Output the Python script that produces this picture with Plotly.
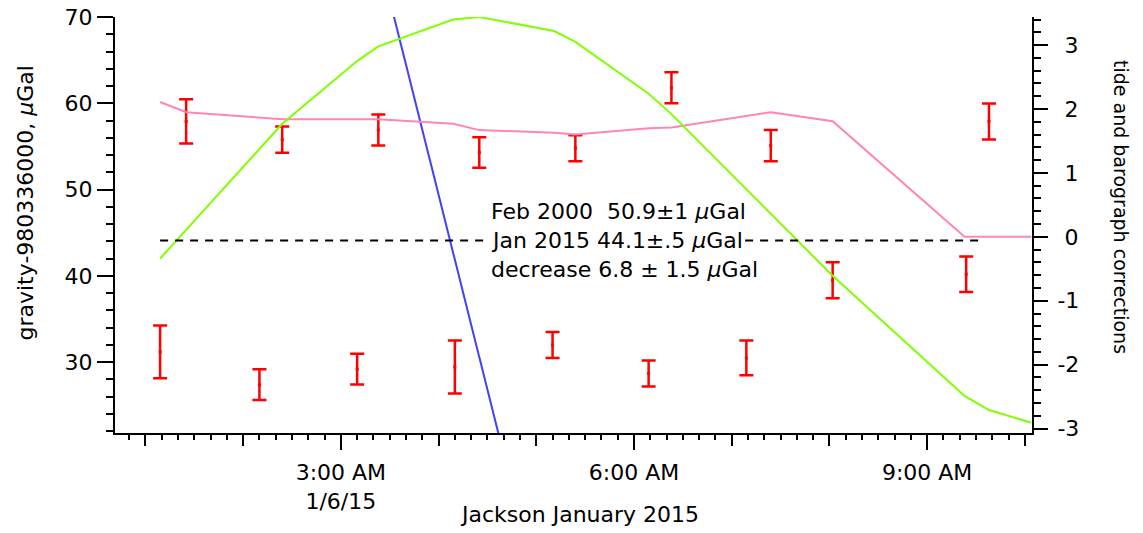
import plotly.graph_objects as go

DAY = "2015-01-06 "

# gravity measurements (left axis, µGal)
upper_times = ["01:25", "02:24", "03:23", "04:25", "05:24", "06:23", "07:24", "08:02", "09:24", "09:38"]
upper_vals = [57.9, 55.8, 56.9, 54.3, 54.8, 61.8, 55.1, 39.5, 40.2, 57.9]
upper_err = [2.56, 1.52, 1.79, 1.76, 1.5, 1.79, 1.81, 2.08, 2.05, 2.08]

lower_times = ["01:09", "02:10", "03:10", "04:10", "05:10", "06:09", "07:09"]
lower_vals = [31.2, 27.4, 29.2, 29.45, 32.0, 28.7, 30.5]
lower_err = [3.06, 1.79, 1.77, 3.06, 1.5, 1.5, 2.02]

# tide correction (right axis)
tide_times = ["01:09", "02:24", "03:10", "03:23", "04:09", "04:25", "05:11", "05:24",
              "06:09", "06:23", "08:02", "09:23", "09:38", "10:04"]
tide_vals = [-0.34, 1.77, 2.75, 2.98, 3.40, 3.44, 3.22, 3.05, 2.24, 1.92, -0.61, -2.49, -2.71, -2.91]

# barograph correction (right axis)
baro_times = ["01:09", "01:25", "02:24", "03:23", "04:09", "04:25", "05:11", "05:24",
              "06:09", "06:23", "07:24", "08:02", "09:23", "10:04"]
baro_vals = [2.11, 1.95, 1.84, 1.84, 1.77, 1.67, 1.63, 1.60, 1.70, 1.71, 1.95, 1.81, 0.0, 0.0]

# drift line (left axis)
drift_times = ["03:30", "04:40"]
drift_vals = [72.0, 19.3]

# Jan 2015 mean level
mean_times = ["01:09", "09:35"]
mean_level = 44.1

x_range = ["2015-01-06 00:41:18", "2015-01-06 10:04:25"]
y_range = [21.8, 70.0]
y2_range = [-3.07, 3.44]

x_major_vals = ["03:00", "06:00", "09:00"]
x_major_text = ["3:00 AM<br>1/6/15", "6:00 AM", "9:00 AM"]
y2_tick_vals = [-3, -2, -1, 0, 1, 2, 3]
y2_tick_text = ["-3", "-2", "-1", "\u00a00", "\u00a01", "\u00a02", "\u00a03"]

FONT = "DejaVu Sans"
FS = 22


def t(lst):
    return [DAY + s for s in lst]


fig = go.Figure()

fig.add_trace(go.Scatter(x=t(baro_times), y=baro_vals, mode="lines", yaxis="y2",
                         line=dict(color="#ff85b5", width=2), hoverinfo="skip"))
fig.add_trace(go.Scatter(x=t(tide_times), y=tide_vals, mode="lines", yaxis="y2",
                         line=dict(color="#80ff00", width=2), hoverinfo="skip"))
fig.add_trace(go.Scatter(x=t(mean_times), y=[mean_level] * len(mean_times), mode="lines",
                         xaxis="x2", line=dict(color="black", width=2, dash="8px,7px"),
                         hoverinfo="skip"))
fig.add_trace(go.Scatter(x=t(drift_times), y=drift_vals, mode="lines",
                         line=dict(color="#4040ff", width=2), hoverinfo="skip"))
for tt, vv, ee in [(upper_times, upper_vals, upper_err), (lower_times, lower_vals, lower_err)]:
    fig.add_trace(go.Scatter(x=t(tt), y=vv, mode="markers",
                             marker=dict(color="red", size=3, symbol="square"),
                             error_y=dict(type="data", array=ee, visible=True,
                                          color="red", thickness=2.5, width=7)))

annots = [
    dict(text="Feb 2000  50.9±1 <i>μ</i>Gal", yshift=29, bgcolor="rgba(0,0,0,0)"),
    dict(text="Jan 2015 44.1±.5 <i>μ</i>Gal", yshift=0, bgcolor="white"),
    dict(text="decrease 6.8 ± 1.5 <i>μ</i>Gal", yshift=-29, bgcolor="rgba(0,0,0,0)"),
]
annotations = []
for a in annots:
    annotations.append(dict(text=a["text"], xref="paper", x=(489 - 115) / 917, xanchor="left",
                            yref="y", y=mean_level, yanchor="middle", yshift=a["yshift"],
                            showarrow=False, bgcolor=a["bgcolor"], borderpad=1,
                            font=dict(family=FONT, size=FS, color="black")))
annotations.append(dict(text="gravity-980336000, <i>μ</i>Gal", textangle=-90,
                        xref="paper", yref="paper", x=(25 - 115) / 917, y=(433 - 203.5) / 416,
                        xanchor="center", yanchor="middle", showarrow=False,
                        font=dict(family=FONT, size=FS, color="black")))
annotations.append(dict(text="tide and barograph corrections", textangle=90,
                        xref="paper", yref="paper", x=(1121 - 115) / 917, y=(433 - 207) / 416,
                        xanchor="center", yanchor="middle", showarrow=False,
                        font=dict(family=FONT, size=19, color="black")))
annotations.append(dict(text="Jackson January 2015",
                        xref="paper", yref="paper", x=(579 - 115) / 917, y=(433 - 514) / 416,
                        xanchor="center", yanchor="middle", showarrow=False,
                        font=dict(family=FONT, size=FS, color="black")))

axis_common = dict(showgrid=False, zeroline=False, linecolor="black", linewidth=2,
                   tickcolor="black", tickwidth=2, ticks="outside", automargin=False,
                   tickfont=dict(family=FONT, size=FS, color="black"))

fig.update_layout(
    width=1143, height=533,
    margin=dict(l=115, r=111, t=17, b=100, autoexpand=False),
    paper_bgcolor="white", plot_bgcolor="white",
    showlegend=False,
    font=dict(family=FONT, size=FS, color="black"),
    xaxis=dict(type="date", range=x_range, showline=True, tick0=DAY + "00:00",
               dtick=3600000, ticklen=11, showticklabels=False,
               minor=dict(dtick=600000, tick0=DAY + "00:00", ticklen=5, tickwidth=2,
                          tickcolor="black", ticks="outside"),
               **axis_common),
    xaxis2=dict(type="date", range=x_range, overlaying="x", anchor="y", side="bottom",
                showline=False, tickmode="array", tickvals=t(x_major_vals),
                ticktext=x_major_text, ticklen=16, ticklabelstandoff=4, **axis_common),
    yaxis=dict(range=y_range, showline=True, tick0=0, dtick=10, ticklen=16,
               minor=dict(dtick=2, tick0=0, ticklen=7, tickwidth=2, tickcolor="black",
                          ticks="outside"),
               **axis_common),
    yaxis2=dict(range=y2_range, overlaying="y", side="right", anchor="x", showline=True,
                tickmode="array", tickvals=y2_tick_vals, ticktext=y2_tick_text, ticklen=14,
                ticklabelstandoff=5,
                minor=dict(dtick=0.2, tick0=0, ticklen=7, tickwidth=2, tickcolor="black",
                           ticks="outside"),
                **axis_common),
    annotations=annotations,
)

fig.write_html("out.html", config={"displayModeBar": False},
               post_script="document.body.style.margin='0';document.body.style.overflow='hidden';")
